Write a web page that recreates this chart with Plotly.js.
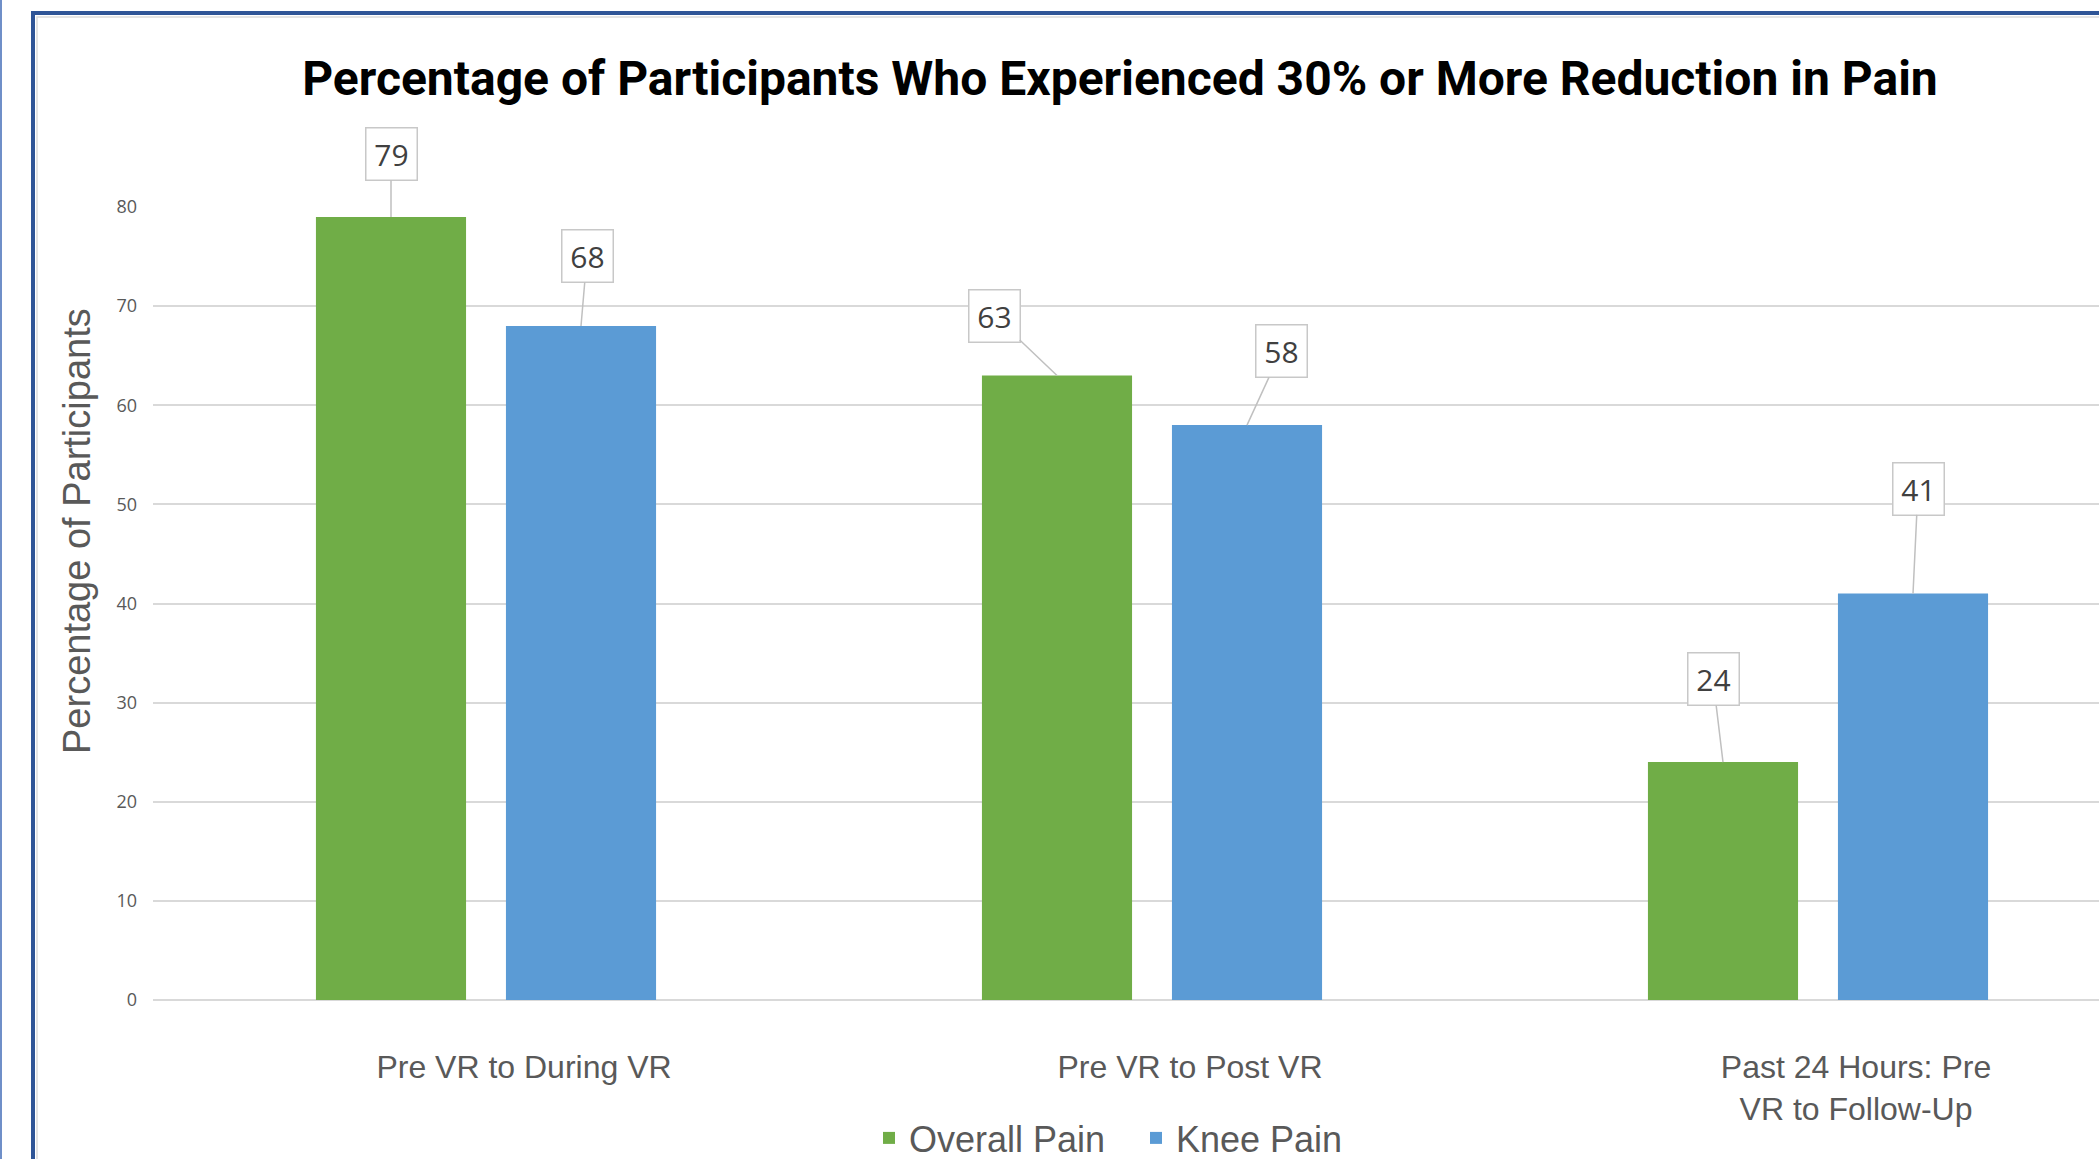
<!DOCTYPE html>
<html><head><meta charset="utf-8">
<script src="https://cdn.plot.ly/plotly-3.0.1.min.js"></script>
<style>html,body{margin:0;padding:0;background:#fff}#chart{width:2099px;height:1159px}</style>
</head><body><div id="chart"></div>
<script>
// ---- data ----
const categories = ["Pre VR to During VR", "Pre VR to Post VR", "Past 24 Hours: Pre<br>VR to Follow-Up"];
const overallPain = [79, 63, 24];
const kneePain = [68, 58, 41];
const seriesNames = ["Overall Pain", "Knee Pain"];
const yTickValues = [0, 10, 20, 30, 40, 50, 60, 70, 80];
const chartTitle = "Percentage of Participants Who Experienced 30% or More Reduction in Pain";
const yAxisTitle = "Percentage of Participants";

// ---- layout constants ----
const W = 2099, H = 1159;
const M = {l: 153, r: 0, t: 207, b: 159};
const BARGAP = 0.4294, GROUPGAP = 0.21;
const colors = ["#70ad47", "#5b9bd5"];
// callout offsets (px) for each series, per category
const calloutOffsets = [
  [[0, -63], [-63, -60], [-10, -83]],
  [[6, -70], [34, -74], [5, -105]]
];

const xIdx = categories.map((c, i) => i);
const traces = [overallPain, kneePain].map((vals, s) => ({
  type: "bar", name: seriesNames[s], x: xIdx, y: vals,
  marker: {color: colors[s]}, hoverinfo: "skip", cliponaxis: false
}));

// bar centre offset in category units
const slot = (1 - BARGAP) / 2;
const annotations = [];
[overallPain, kneePain].forEach((vals, s) => {
  vals.forEach((v, i) => {
    annotations.push({
      xref: "x", yref: "y", x: i + (s === 0 ? -slot / 2 : slot / 2), y: v,
      text: String(v), showarrow: true, arrowhead: 0, arrowwidth: 1.5, arrowcolor: "#c0c0c0",
      ax: calloutOffsets[s][i][0], ay: calloutOffsets[s][i][1], standoff: 0,
      bgcolor: "#ffffff", bordercolor: "#c8c8c8", borderwidth: 1.5, borderpad: 5, width: 40,
      font: {family: "Open Sans, sans-serif", size: 30, color: "#404040"}
    });
  });
});

// frame shapes in paper units
const pw = W - M.l - M.r, ph = H - M.t - M.b;
const px = p => (p - M.l) / pw;
const py = p => (H - M.b - p) / ph;

annotations.push({
  xref: "paper", yref: "paper", x: px(77), y: py(531), xanchor: "center", yanchor: "middle",
  text: yAxisTitle, textangle: -90, showarrow: false,
  font: {family: "Liberation Sans, Arial, sans-serif", size: 38, color: "#595959"}
});

const shapes = [
  {type: "line", xref: "paper", yref: "paper", x0: px(1), x1: px(1), y0: py(-5), y1: py(H + 5),
   line: {color: "#6f8fc8", width: 2}, layer: "below"},
  {type: "rect", xref: "paper", yref: "paper", x0: px(33), x1: px(W + 20), y0: py(13), y1: py(H + 20),
   line: {color: "#2f5597", width: 4}, layer: "below"},
  {type: "rect", xref: "paper", yref: "paper", x0: px(37), x1: px(W + 20), y0: py(17), y1: py(H + 20),
   line: {color: "#dcdcdc", width: 1.5}, layer: "below"}
];

const layout = {
  width: W, height: H, margin: M,
  paper_bgcolor: "#ffffff", plot_bgcolor: "#ffffff",
  barmode: "group", bargap: BARGAP, bargroupgap: GROUPGAP,
  showlegend: true,
  title: {
    text: "<b>" + chartTitle + "</b>",
    xref: "container", yref: "container", x: 1120 / W, xanchor: "center", y: 1 - 78 / H, yanchor: "middle",
    font: {family: "Roboto, sans-serif", size: 48, color: "#000000"}
  },
  xaxis: {
    type: "linear", range: [-0.5, -0.5 + pw / 666],
    tickmode: "array", tickvals: xIdx, ticktext: categories,
    showgrid: false, zeroline: false, showline: false, ticks: "",
    ticklabelshift: 38, ticklabelstandoff: 45,
    tickfont: {family: "Liberation Sans, Arial, sans-serif", size: 32, color: "#595959"}
  },
  yaxis: {
    range: [0, 80], tickmode: "array", tickvals: yTickValues,
    showgrid: true, gridcolor: "#d9d9d9", gridwidth: 2,
    zeroline: true, zerolinecolor: "#d9d9d9", zerolinewidth: 2,
    showline: false, ticks: "", ticklabelstandoff: 15,
    tickfont: {family: "Open Sans, sans-serif", size: 18, color: "#595959"}
  },
  legend: {
    orientation: "h", xref: "container", yref: "container",
    x: 1136 / W, xanchor: "center", y: 1 - 1138 / H, yanchor: "middle",
    font: {family: "Liberation Sans, Arial, sans-serif", size: 36, color: "#595959"},
    itemwidth: 30, traceorder: "normal", entrywidth: 222, entrywidthmode: "pixels"
  },
  annotations: annotations,
  shapes: shapes
};

Plotly.newPlot("chart", traces, layout, {displayModeBar: false, staticPlot: true});
</script>
</body></html>
